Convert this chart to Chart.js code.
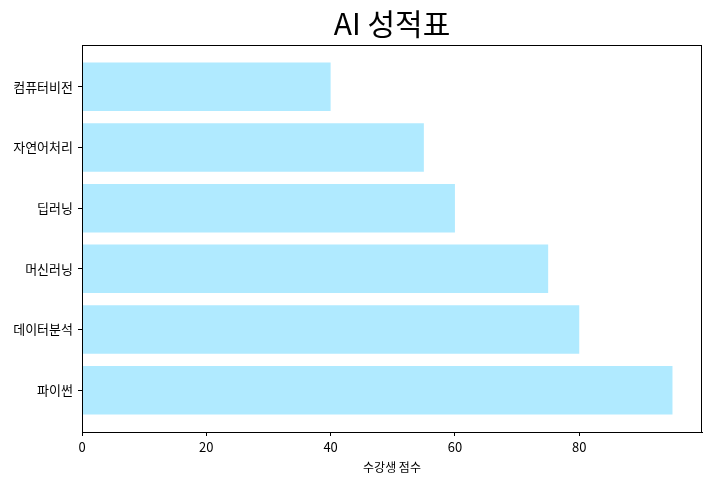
<!DOCTYPE html>
<html>
<head>
<meta charset="utf-8">
<script src="https://cdn.jsdelivr.net/npm/chart.js@4"></script>
<style>
  html, body { margin: 0; padding: 0; background: #fff; }
  #wrap { width: 711px; height: 485px; }
</style>
</head>
<body>
<div id="wrap"><canvas id="scoreChart" width="711" height="485"></canvas></div>
<script>
// bottom to top, like matplotlib barh
var subjects = ['파이썬', '데이터분석', '머신러닝', '딥러닝', '자연어처리', '컴퓨터비전'];
var scores = [95, 80, 75, 60, 55, 40];
var xTicks = [0, 20, 40, 60, 80];

var font = '"Noto Sans CJK KR", "Noto Sans", sans-serif';

// draws the box round the plot like matplotlib spines
var frame = {
    id: 'frame',
    afterDraw: function(chart) {
        var a = chart.chartArea, c = chart.ctx;
        c.save();
        c.strokeStyle = '#000';
        c.lineWidth = 1;
        c.strokeRect(a.left + 0.5, a.top + 0.5, a.right - a.left - 1, a.bottom - a.top);
        c.restore();
    }
};

var ctx = document.getElementById('scoreChart').getContext('2d');
var chart = new Chart(ctx, {
    type: 'bar',
    data: {
        datasets: [{
            label: '수강생 점수',
            data: scores.map(function(v, i) { return {x: v, y: i}; }),
            backgroundColor: '#b0eaff',
            borderWidth: 0,
            barPercentage: 0.8,
            categoryPercentage: 1
        }]
    },
    options: {
        indexAxis: 'y',
        responsive: false,
        animation: false,
        layout: { padding: { left: 0, right: 9, top: 0, bottom: 10 } },
        scales: {
            x: {
                type: 'linear',
                min: 0,
                max: 99.75,
                afterBuildTicks: function(s) { s.ticks = xTicks.map(function(v) { return {value: v}; }); },
                afterFit: function(s) { s.height = 43; },
                grid: { drawOnChartArea: false, color: '#000', tickLength: 4 },
                border: { color: '#000' },
                ticks: { color: '#000', padding: 3, font: { family: font, size: 13 } },
                title: { display: true, text: '수강생 점수', color: '#000', padding: { top: 2, bottom: 0 }, font: { family: font, size: 12 } }
            },
            y: {
                type: 'linear',
                offset: false,
                min: -0.69,
                max: 5.69,
                afterBuildTicks: function(s) { s.ticks = subjects.map(function(_, i) { return {value: i}; }); },
                afterFit: function(s) { s.width = 82; },
                grid: { offset: false, drawOnChartArea: false, color: '#000', tickLength: 4 },
                border: { color: '#000' },
                ticks: {
                    color: '#000',
                    padding: 5,
                    font: { family: font, size: 13 },
                    callback: function(v) { return subjects[v]; }
                }
            }
        },
        plugins: {
            legend: { display: false },
            tooltip: { enabled: false },
            title: {
                display: true,
                text: 'AI 성적표',
                fullSize: false,
                color: '#000',
                padding: { top: 6, bottom: 3 },
                font: { family: font, size: 30, weight: 'normal', lineHeight: 1.2 }
            }
        }
    },
    plugins: [frame]
});
</script>
</body>
</html>
